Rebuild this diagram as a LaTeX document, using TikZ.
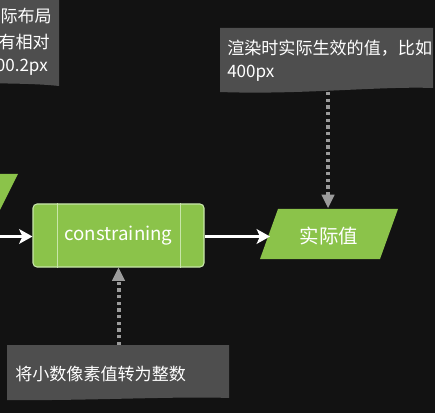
\documentclass[tikz,border=0pt]{standalone}
\usepackage{fontspec}
\setmainfont{Noto Sans CJK SC}
\usetikzlibrary{arrows.meta}
\definecolor{bg}{RGB}{18,18,18}
\definecolor{notec}{RGB}{78,78,78}
\definecolor{grn}{RGB}{139,195,74}
\definecolor{grnedge}{RGB}{200,230,170}
\definecolor{dotc}{RGB}{155,155,155}
\tikzset{
  notetext/.style={text=white, font=\fontsize{12.8pt}{15pt}\selectfont, inner sep=0pt},
  procbox/.style={fill=grn, draw=grnedge, line width=0.8pt, rounded corners=3pt,
    minimum width=128.25pt, minimum height=47.25pt, text=white,
    font=\fontsize{14pt}{16pt}\selectfont},
  valtext/.style={text=white, font=\fontsize{14.6pt}{17pt}\selectfont, inner sep=0pt},
  dotarrow/.style={draw=dotc, line width=3pt, dash pattern=on 2.6pt off 2.4pt,
    -{Triangle[length=10pt,width=10pt,fill=dotc,line width=0pt]}, shorten >=0pt},
  warrow/.style={draw=white, line width=2.3pt, -{Stealth[length=10pt,width=11pt,inset=2.5pt]}}
}
\begin{document}
\begin{tikzpicture}[x=0.75pt,y=-0.75pt]
\fill[bg] (0,0) rectangle (435,413);
\useasboundingbox (0,0) rectangle (435,413);
\begin{scope}
\clip (0,0) rectangle (435,413);
% top-left note (cut)
\fill[notec] (-80,-10) -- (59,-10) -- (59,86) .. controls (40,84) and (20,83) .. (-80,83) -- cycle;
\node[notetext, anchor=east] (tl1) at (52,16) {实际布局};
\node[notetext, anchor=east] (tl2) at (50,42) {有相对};
\node[notetext, anchor=east] (tl3) at (48,67) {00.2px};
% top-left parallelogram (cut)
\fill[grn] (-100,174) -- (18,174) -- (-7,224) -- (-130,224) -- cycle;
% top-right note
\fill[notec] (220,28) -- (433,28) -- (433,88) .. controls (380,86) and (300,95) .. (220,92) -- cycle;
\node[notetext, anchor=west] (tr1) at (227,48) {渲染时实际生效的值，比如};
\node[notetext, anchor=west] (tr2) at (227,73) {400px};
\coordinate (trb) at (328,92);
% bottom note
\fill[notec] (7,345) -- (229,345) -- (229,398) .. controls (180,396) and (80,401) .. (7,400) -- cycle;
\node[notetext, anchor=west] (bn) at (15,374) {将小数像素值转为整数};
\coordinate (bnt) at (118.5,345);
% process box
\node[procbox] (cons) at (118.5,235.5) {constraining};
\draw[grnedge, line width=0.6pt] ([xshift=18.75pt]cons.north west) -- ([xshift=18.75pt]cons.south west);
\draw[grnedge, line width=0.6pt] ([xshift=-18pt]cons.north east) -- ([xshift=-18pt]cons.south east);
% value parallelogram
\fill[grn] (260,259) -- (278,209) -- (398,209) -- (380,259) -- cycle;
\node[valtext] (val) at (329,236) {实际值};
\coordinate (valw) at (270,236.5);
\coordinate (valn) at (328,208);
\coordinate (inl) at (0,236.5);
% connectors
\draw[warrow] (inl) -- (cons.west |- inl);
\draw[warrow] (cons.east |- valw) -- (valw);
\draw[dotarrow] (trb) -- (valn);
\draw[dotarrow] (bnt) -- (cons.south);
\end{scope}
\end{tikzpicture}
\end{document}
